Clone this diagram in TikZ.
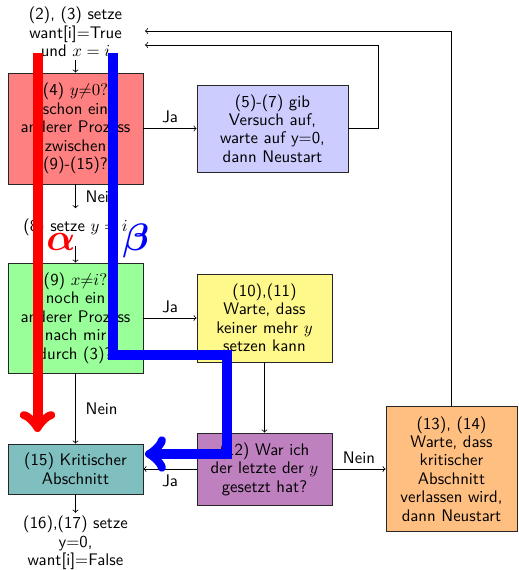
\documentclass[tikz,border=0pt]{standalone}
\usepackage{amsmath}
\begin{document}
\begin{tikzpicture}[x=0.65pt,y=-0.65pt,font=\sffamily\fontsize{10.9}{12}\selectfont,
  box/.style={draw=black!85, line width=0.5pt, align=center, inner sep=2pt},
  plain/.style={align=center, inner sep=2pt},
  conn/.style={->, black, line width=0.5pt},
  track/.style={->, line width=6.5pt}]
\useasboundingbox (0,0) rectangle (518,570);

% steps of the protocol
\node[plain] (init) at (75.5,32) {(2), (3) setze\\want[i]=True\\und $x=i$};
\node[box, fill=red!50, minimum width=87.75pt, minimum height=72.15pt] (q4) at (75.5,128.5)
  {(4) $y{\neq}0?$\\schon ein\\anderer Prozess\\zwischen\\(9)-(15)?};
\node[box, fill=blue!20, minimum width=98.15pt, minimum height=56.55pt] (giveup) at (272.5,128.5)
  {(5)-(7) gib\\Versuch auf,\\warte auf y=0,\\dann Neustart};
\node[plain, minimum height=24pt] (sety) at (75.5,227) {(8) setze $y=i$};
\node[box, fill=green!40, minimum width=87.75pt, minimum height=71.5pt] (q9) at (75.5,318)
  {(9) $x{\neq}i?$\\noch ein\\anderer Prozess\\nach mir\\durch (3)?};
\node[box, fill=yellow!45, minimum width=87.75pt, minimum height=57.2pt] (waity) at (264.5,318)
  {(10),(11)\\Warte, dass\\keiner mehr $y$\\setzen kann};
\node[box, fill=teal!50, minimum width=87.75pt, minimum height=32.5pt] (crit) at (75.5,469)
  {(15) Kritischer\\Abschnitt};
\node[box, fill=violet!50, minimum width=87.75pt, minimum height=46.8pt] (last) at (264.5,469)
  {(12) War ich\\der letzte der $y$\\gesetzt hat?};
\node[box, fill=orange!50, minimum width=85.2pt, minimum height=81.25pt] (waitcs) at (451.5,469)
  {(13), (14)\\Warte, dass\\kritischer\\Abschnitt\\verlassen wird,\\dann Neustart};
\node[plain] (done) at (75.5,543) {(16),(17) setze\\y=0,\\want[i]=False};

% restart targets
\coordinate (ret1) at (145,45);
\coordinate (ret2) at (145,31);

% control flow
\draw[conn] (init) -- (q4);
\draw[conn] (q4) -- node[above] {Ja} (giveup);
\draw[conn] (q4) -- node[right, xshift=3pt] {Nein} (sety);
\draw[conn] (giveup.east) -- ++(30,0) |- (ret1);
\draw[conn] (sety) -- (q9);
\draw[conn] (q9) -- node[above] {Ja} (waity);
\draw[conn] (q9) -- node[right, xshift=3pt] {Nein} (crit);
\draw[conn] (waity) -- (last);
\draw[conn] (last) -- node[below] {Ja} (crit);
\draw[conn] (last) -- node[above] {Nein} (waitcs);
\draw[conn] (waitcs.north) |- (ret2);
\draw[conn] (crit) -- (done);

% two executions drawn over the chart
\coordinate (astart) at (37.5,53);
\coordinate (aend) at (37.5,432);
\coordinate (bstart) at (113,53);
\coordinate (bturn) at (227,355);
\coordinate (bend) at (145,454);
\draw[track, red] (astart) -- (aend);
\draw[track, blue] (bstart) |- (bturn) |- (bend);
\node[text=red, font=\Huge, anchor=base] (alpha) at (61,250) {$\boldsymbol{\alpha}$};
\node[text=blue, font=\Huge, anchor=base] (beta) at (136,250) {$\boldsymbol{\beta}$};
\end{tikzpicture}
\end{document}
